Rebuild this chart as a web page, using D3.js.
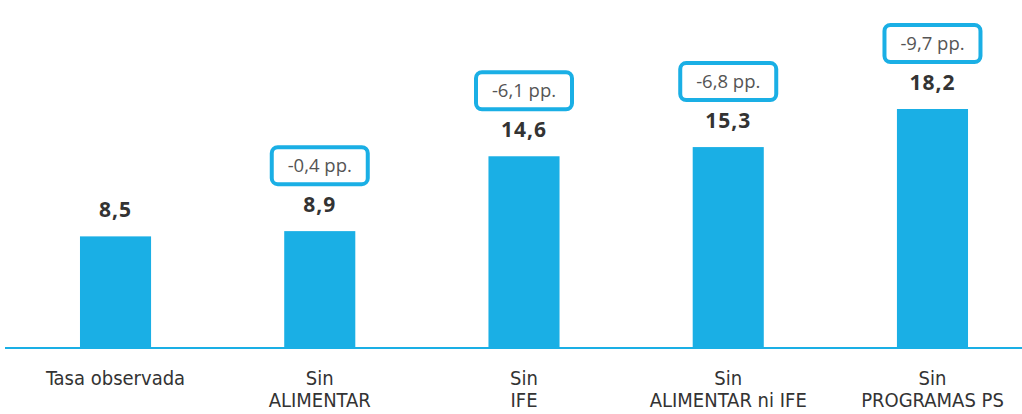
<!DOCTYPE html>
<html>
<head>
<meta charset="utf-8">
<script src="https://cdn.jsdelivr.net/npm/d3@7"></script>
<style>
  body { margin: 0; background: #fff; }
  svg { display: block; }
</style>
</head>
<body>
<svg id="chart" width="1022" height="414"></svg>
<script>
const categories = ['Tasa observada', 'Sin ALIMENTAR', 'Sin IFE', 'Sin ALIMENTAR ni IFE', 'Sin PROGRAMAS PS'];
const labelLines = [['Tasa observada'], ['Sin', 'ALIMENTAR'], ['Sin', 'IFE'], ['Sin', 'ALIMENTAR ni IFE'], ['Sin', 'PROGRAMAS PS']];
const values = [8.5, 8.9, 14.6, 15.3, 18.2];
const valueLabels = ['8,5', '8,9', '14,6', '15,3', '18,2'];
const diffLabels = [null, '-0,4 pp.', '-6,1 pp.', '-6,8 pp.', '-9,7 pp.'];

const blue = '#1aafe5';
const svg = d3.select('#chart');
const baseY = 348;

const x = d3.scaleBand()
  .domain(categories)
  .range([13.4, 1034.6])
  .paddingInner(0.652)
  .paddingOuter(0.326);

const y = d3.scaleLinear()
  .domain([0, 18.2])
  .range([baseY, 109]);

// bars
svg.selectAll('rect.bar').data(values)
  .enter().append('rect')
  .attr('class', 'bar')
  .attr('x', (d, i) => x(categories[i]))
  .attr('y', d => y(d))
  .attr('width', x.bandwidth())
  .attr('height', d => baseY - y(d))
  .attr('fill', blue);

// baseline
svg.append('line')
  .attr('x1', 5).attr('x2', 1022)
  .attr('y1', baseY).attr('y2', baseY)
  .attr('stroke', blue).attr('stroke-width', 2);

const cx = i => x(categories[i]) + x.bandwidth() / 2;

// value labels
svg.selectAll('text.val').data(values)
  .enter().append('text')
  .attr('class', 'val')
  .attr('x', (d, i) => cx(i))
  .attr('y', d => y(d) - 19)
  .attr('text-anchor', 'middle')
  .attr('font-family', '"Open Sans", "Noto Sans", sans-serif')
  .attr('font-weight', 'bold')
  .attr('font-size', 21)
  .attr('letter-spacing', 1)
  .attr('fill', '#333')
  .text((d, i) => valueLabels[i]);

// difference boxes
const boxW = 96, boxH = 37;
svg.selectAll('rect.diff').data(values)
  .enter().filter((d, i) => diffLabels[i] !== null)
  .append('rect')
  .attr('class', 'diff')
  .attr('x', (d, i) => cx(i + 1) - boxW / 2)
  .attr('y', d => y(d) - 47 - boxH)
  .attr('width', boxW).attr('height', boxH)
  .attr('rx', 6)
  .attr('fill', '#fff')
  .attr('stroke', blue)
  .attr('stroke-width', 4);

svg.selectAll('text.diff').data(values)
  .enter().filter((d, i) => diffLabels[i] !== null)
  .append('text')
  .attr('class', 'diff')
  .attr('x', (d, i) => cx(i + 1))
  .attr('y', d => y(d) - 47 - boxH / 2 + 6.5)
  .attr('text-anchor', 'middle')
  .attr('font-family', '"Open Sans", "Noto Sans", sans-serif')
  .attr('font-size', 18.5)
  .attr('fill', '#555')
  .text((d, i) => diffLabels[i + 1]);

// category labels
const cat = svg.selectAll('text.cat').data(categories)
  .enter().append('text')
  .attr('class', 'cat')
  .attr('text-anchor', 'middle')
  .attr('font-family', '"Liberation Sans Narrow", "DejaVu Sans Condensed", sans-serif')
  .attr('font-size', 20)
  .attr('fill', '#333');

cat.each(function(d, i) {
  const t = d3.select(this);
  labelLines[i].forEach((line, j) => {
    t.append('tspan')
      .attr('x', cx(i))
      .attr('y', 385 + j * 22)
      .text(line);
  });
});
</script>
</body>
</html>
